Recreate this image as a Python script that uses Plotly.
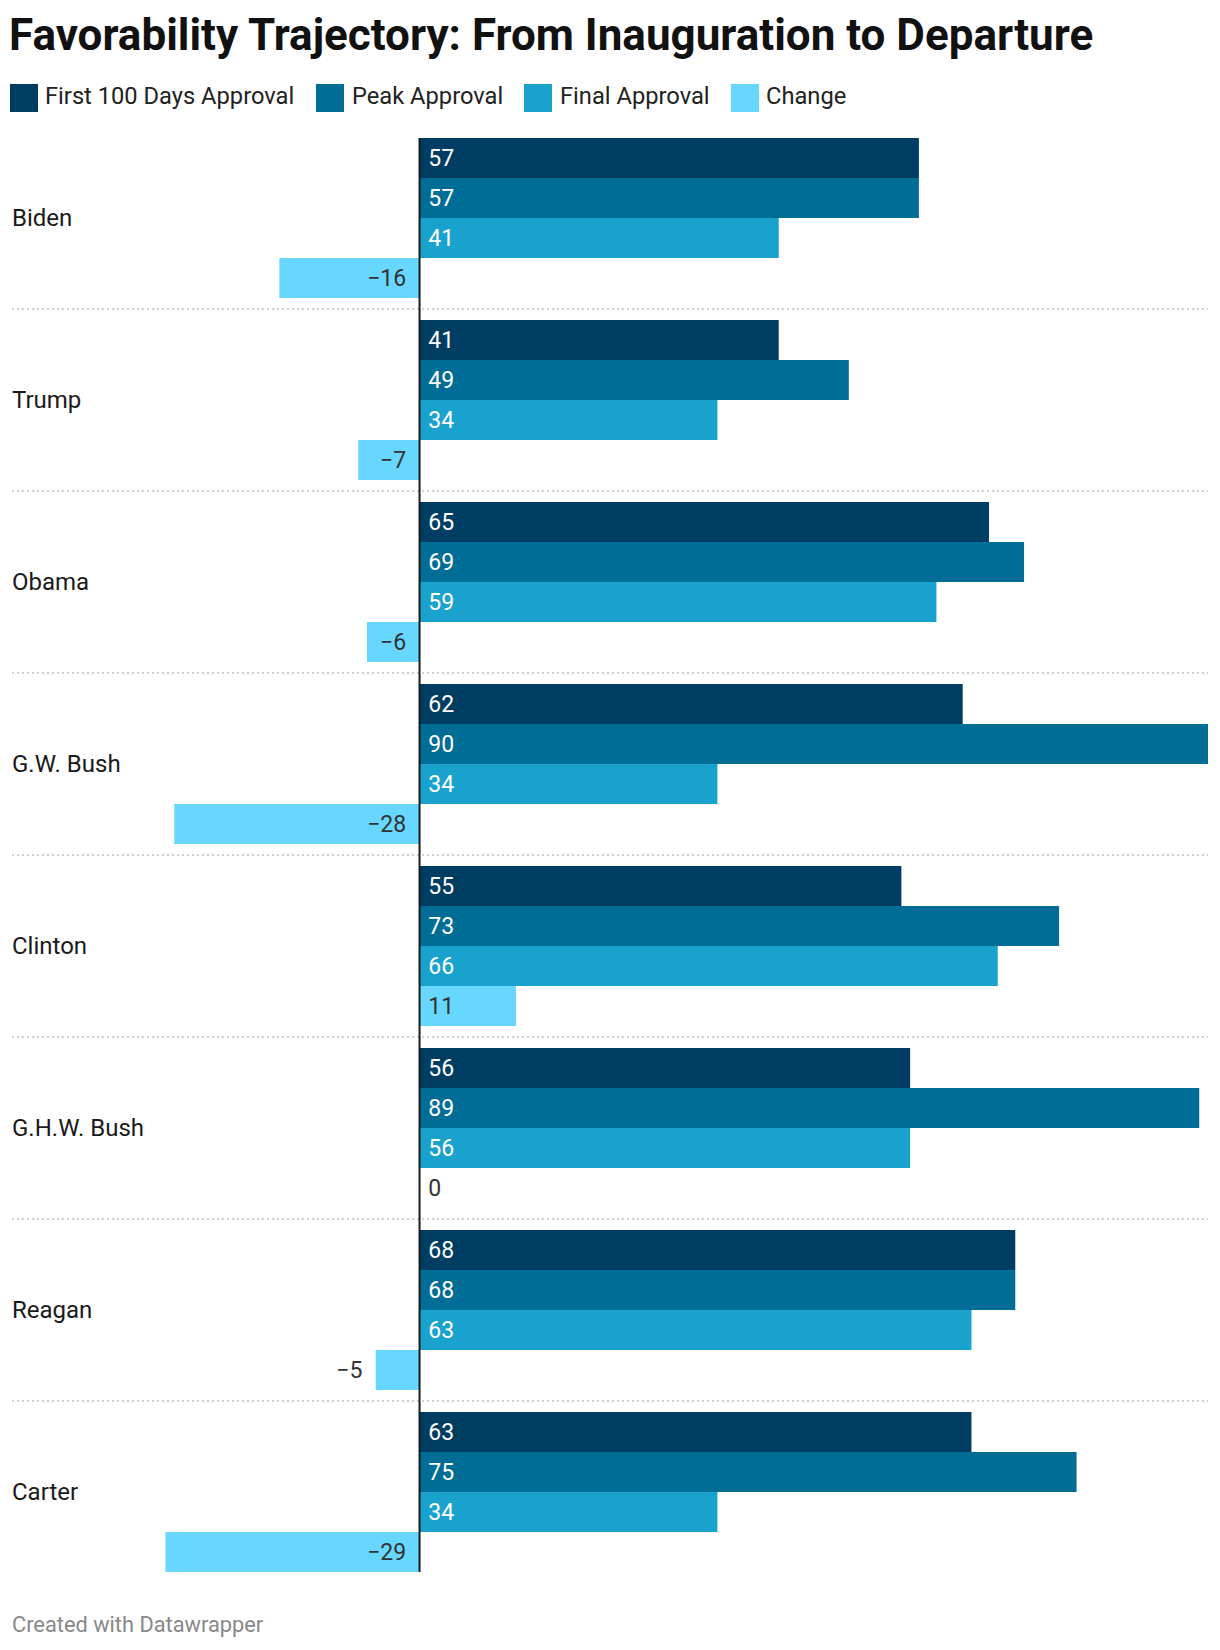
import plotly.graph_objects as go

# ---------------- data ----------------
presidents = ["Biden", "Trump", "Obama", "G.W. Bush", "Clinton", "G.H.W. Bush", "Reagan", "Carter"]
first_100 = [57, 41, 65, 62, 55, 56, 68, 63]
peak = [57, 49, 69, 90, 73, 89, 68, 75]
final = [41, 34, 59, 34, 66, 56, 63, 34]
change = [-16, -7, -6, -28, 11, 0, -5, -29]

series_names = ["First 100 Days Approval", "Peak Approval", "Final Approval", "Change"]
series_colors = ["#003d62", "#006d96", "#1aa2ce", "#67d7ff"]

# ---------------- geometry (pixels) ----------------
W, H = 1220, 1650
PL, PR = 12, 1208          # plot left/right
PT, PB = 127, 1583         # plot top/bottom
X_MIN, X_MAX = -46.52, 90.0
FONT = "Roboto"
NB = "\u00a0"
TS = "\u2009"


def px2x(px):
    return (px - PL) / (PR - PL)


def px2y(py):
    return (PB - py) / (PB - PT)


def fmt(v):
    return str(v).replace("-", "\u2212")


def label_text(v):
    if v >= 0:
        return NB + fmt(v)
    return fmt(v) + NB + TS


fig = go.Figure()

for name, vals, col in zip(series_names[:3], [first_100, peak, final], series_colors[:3]):
    fig.add_trace(go.Bar(
        y=presidents, x=vals, name=name, orientation="h",
        marker=dict(color=col, line=dict(width=0)),
        text=[label_text(v) for v in vals],
        textposition="inside", insidetextanchor="start",
        textfont=dict(family=FONT, size=23, color="#ffffff"),
        constraintext="none", cliponaxis=False,
        hoverinfo="x+y", showlegend=False,
    ))

change_pos = ["inside" if abs(v) > 5 else "outside" for v in change]
fig.add_trace(go.Bar(
    y=presidents, x=change, name=series_names[3], orientation="h",
    marker=dict(color=series_colors[3], line=dict(width=0)),
    text=[label_text(v) for v in change],
    textposition=change_pos, insidetextanchor="start",
    textfont=dict(family=FONT, size=23, color="#333333"),
    constraintext="none", cliponaxis=False,
    hoverinfo="x+y", showlegend=False,
))

shapes = []
# dotted separators between groups
for i in range(len(presidents) - 1):
    shapes.append(dict(type="line", xref="paper", x0=0, x1=1, yref="y", y0=i + 0.5, y1=i + 0.5,
                       line=dict(color="#cfcfcf", width=2, dash="2px,3px"), layer="below"))
# zero axis line
pad = 11 / 182
shapes.append(dict(type="line", xref="x", x0=0, x1=0, yref="y", y0=-0.5 + pad, y1=len(presidents) - 0.5 - pad,
                   line=dict(color="#1a1a1a", width=2), layer="above"))

# custom legend
legend_swatch_x = [10, 316, 524, 731]
legend_text_x = [43, 350, 558, 764]
annotations = []
for sx, tx, name, col in zip(legend_swatch_x, legend_text_x, series_names, series_colors):
    shapes.append(dict(type="rect", xref="paper", yref="paper",
                       x0=px2x(sx), x1=px2x(sx + 28), y0=px2y(112), y1=px2y(84),
                       fillcolor=col, line=dict(width=0)))
    annotations.append(dict(xref="paper", yref="paper", x=px2x(tx), y=px2y(96),
                            xanchor="left", yanchor="middle", showarrow=False, text=name,
                            font=dict(family=FONT, size=23.7, color="#222222")))

# category labels
for p in presidents:
    annotations.append(dict(xref="paper", yref="y", x=px2x(10), y=p, xanchor="left", yanchor="middle",
                            showarrow=False, text=p, font=dict(family=FONT, size=24, color="#1a1a1a")))

# footer
annotations.append(dict(xref="paper", yref="paper", x=px2x(10), y=px2y(1625), xanchor="left", yanchor="middle",
                        showarrow=False, text="Created with Datawrapper",
                        font=dict(family=FONT, size=21.8, color="#888888")))

fig.update_layout(
    width=W, height=H,
    margin=dict(l=PL, r=W - PR, t=PT, b=H - PB, pad=0),
    paper_bgcolor="#ffffff", plot_bgcolor="#ffffff",
    barmode="group", bargap=22 / 182, bargroupgap=0,
    title=dict(text="<b>Favorability Trajectory: From Inauguration to Departure</b>",
               xref="container", yref="container", x=9 / W, y=1 - 35 / H,
               xanchor="left", yanchor="middle",
               font=dict(family=FONT, size=44, color="#111111")),
    xaxis=dict(range=[X_MIN, X_MAX], visible=False, fixedrange=True),
    yaxis=dict(type="category", categoryorder="array", categoryarray=presidents,
               range=[len(presidents) - 0.5, -0.5], showticklabels=False, showgrid=False,
               zeroline=False, showline=False, ticks="", fixedrange=True),
    shapes=shapes, annotations=annotations,
    showlegend=False,
    font=dict(family=FONT),
)

fig.write_html("out.html", config={"displayModeBar": False},
               post_script="document.body.style.margin='0';")
